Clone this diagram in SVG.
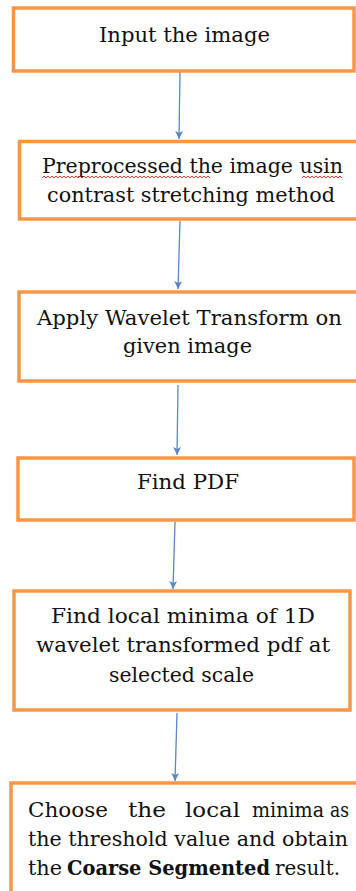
<svg xmlns="http://www.w3.org/2000/svg" width="356" height="891" viewBox="0 0 356 891">
<defs>
<style>
.box{fill:#ffffff;stroke:#f79646;stroke-width:3.5}
.t{font-size:21px;fill:#111111}
.c{fill:none;stroke:#5b87c5;stroke-width:1.3}
.sq{fill:none;stroke:#e02020;stroke-width:0.9}
</style>
<marker id="ah" markerUnits="userSpaceOnUse" markerWidth="9" markerHeight="9" refX="8" refY="4" orient="auto">
<path d="M0,0 L8,4 L0,8 L2,4 Z" fill="#5b87c5"/>
</marker>
</defs>
<rect width="356" height="891" fill="#ffffff"/>
<g id="connectors">
<path class="c" d="M180,72 L179,139" marker-end="url(#ah)"/>
<path class="c" d="M180,221 L178,289" marker-end="url(#ah)"/>
<path class="c" d="M178,385 L177,455" marker-end="url(#ah)"/>
<path class="c" d="M175,522 L173,589" marker-end="url(#ah)"/>
<path class="c" d="M177,713 L175,781" marker-end="url(#ah)"/>
</g>
<g font-family="'DejaVu Serif', 'Liberation Serif', serif">
<g id="n1">
<rect class="box" x="13.5" y="8" width="340.5" height="63"/>
<text class="t" x="99" y="42" textLength="171" lengthAdjust="spacingAndGlyphs">Input the image</text>
</g>
<g id="n2">
<path class="box" d="M356,141.5 H19.5 V219 H356"/>
<text class="t" x="42" y="173" textLength="301" lengthAdjust="spacingAndGlyphs">Preprocessed the image usin</text>
<text class="t" x="47" y="202" textLength="288" lengthAdjust="spacingAndGlyphs">contrast stretching method</text>
<path class="sq" d="M42,178 l2,-2 l2,2 l2,-2 l2,2 l2,-2 l2,2 l2,-2 l2,2 l2,-2 l2,2 l2,-2 l2,2 l2,-2 l2,2 l2,-2 l2,2 l2,-2 l2,2 l2,-2 l2,2 l2,-2 l2,2 l2,-2 l2,2 l2,-2 l2,2 l2,-2 l2,2 l2,-2 l2,2 l2,-2 l2,2 l2,-2 l2,2 l2,-2 l2,2 l2,-2 l2,2 l2,-2 l2,2 l2,-2 l2,2 l2,-2 l2,2 l2,-2 l2,2 l2,-2 l2,2 l2,-2 l2,2 l2,-2 l2,2 l2,-2 l2,2 l2,-2 l2,2 l2,-2 l2,2 l2,-2 l2,2 l2,-2 l2,2 l2,-2 l2,2 l2,-2 l2,2 l2,-2 l2,2 l2,-2 l2,2 l2,-2 l2,2 l2,-2 l2,2 l2,-2 l2,2 l2,-2 l2,2 l2,-2 l2,2 l2,-2 l2,2 l2,-2 l2,2"/>
<path class="sq" d="M302,178 l2,-2 l2,2 l2,-2 l2,2 l2,-2 l2,2 l2,-2 l2,2 l2,-2 l2,2 l2,-2 l2,2 l2,-2 l2,2 l2,-2 l2,2 l2,-2 l2,2 l2,-2 l2,2"/>
</g>
<g id="n3">
<path class="box" d="M356,292 H19 V381 H356"/>
<text class="t" x="37" y="325" textLength="305" lengthAdjust="spacingAndGlyphs">Apply Wavelet Transform on</text>
<text class="t" x="123" y="353" textLength="129" lengthAdjust="spacingAndGlyphs">given image</text>
</g>
<g id="n4">
<rect class="box" x="18" y="458" width="336" height="62"/>
<text class="t" x="137" y="489" textLength="102" lengthAdjust="spacingAndGlyphs">Find PDF</text>
</g>
<g id="n5">
<rect class="box" x="14" y="591" width="336" height="119"/>
<text class="t" x="51" y="623" textLength="264" lengthAdjust="spacingAndGlyphs">Find local minima of 1D</text>
<text class="t" x="36" y="652" textLength="294" lengthAdjust="spacingAndGlyphs">wavelet transformed pdf at</text>
<text class="t" x="109" y="682" textLength="145" lengthAdjust="spacingAndGlyphs">selected scale</text>
</g>
<g id="n6">
<path class="box" d="M356,783 H11 V891"/>
<text class="t" x="28" y="817" textLength="80" lengthAdjust="spacingAndGlyphs">Choose</text>
<text class="t" x="128" y="817" textLength="38" lengthAdjust="spacingAndGlyphs">the</text>
<text class="t" x="185" y="817" textLength="55" lengthAdjust="spacingAndGlyphs">local</text>
<text class="t" x="252" y="817" textLength="72" lengthAdjust="spacingAndGlyphs">minima</text>
<text class="t" x="330" y="817" textLength="19" lengthAdjust="spacingAndGlyphs">as</text>
<text class="t" x="28" y="846" textLength="320" lengthAdjust="spacingAndGlyphs">the threshold value and obtain</text>
<text class="t" x="28" y="875" textLength="34" lengthAdjust="spacingAndGlyphs">the</text>
<text class="t" x="67" y="875" textLength="203" lengthAdjust="spacingAndGlyphs" font-weight="bold" font-size="19">Coarse Segmented</text>
<text class="t" x="275" y="875" textLength="65" lengthAdjust="spacingAndGlyphs">result.</text>
</g>
</g>
</svg>
